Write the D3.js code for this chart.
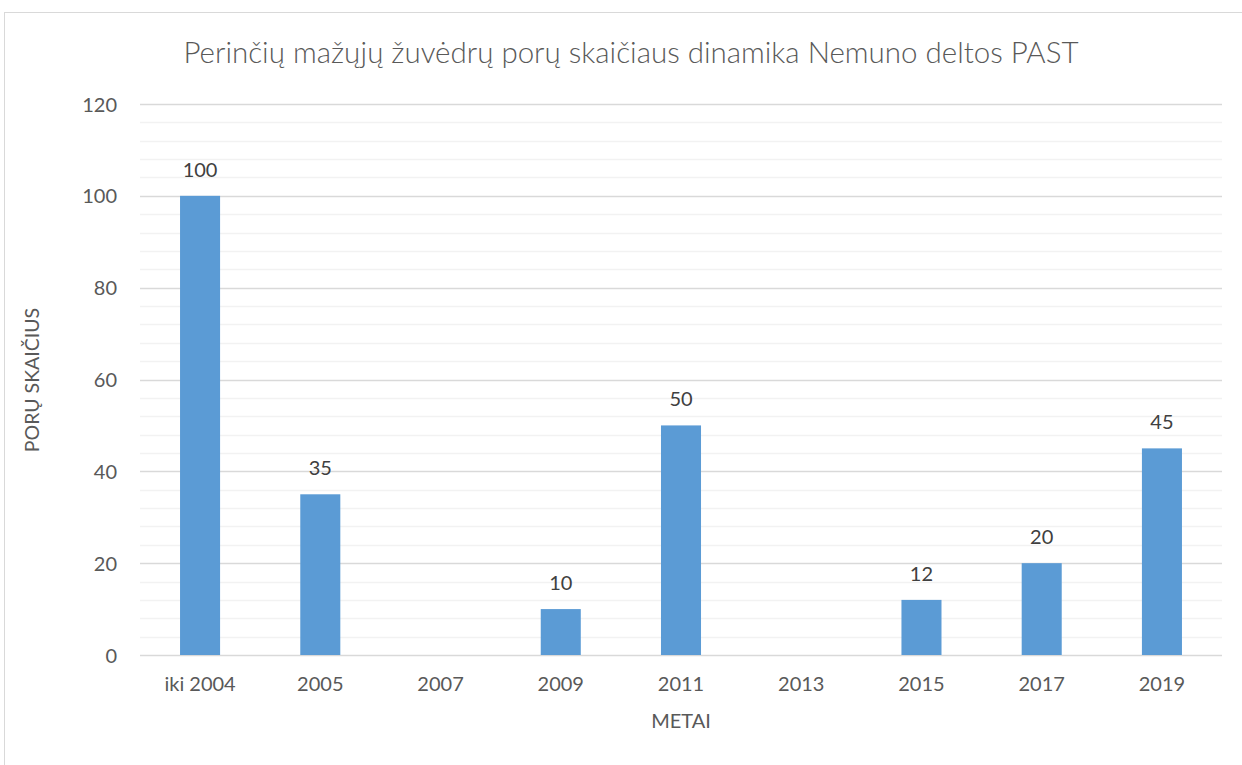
<!DOCTYPE html>
<html>
<head>
<meta charset="utf-8">
<script src="https://cdn.jsdelivr.net/npm/d3@7"></script>
<style>
  body { margin: 0; background: #fff; }
  text { font-family: Lato, "Open Sans", sans-serif; }
</style>
</head>
<body>
<script>
// chart data
const years = ["iki 2004", "2005", "2007", "2009", "2011", "2013", "2015", "2017", "2019"];
const pairs = [100, 35, null, 10, 50, null, 12, 20, 45];
const yTicks = [0, 20, 40, 60, 80, 100, 120];

const chartTitle = "Perinčių mažųjų žuvėdrų porų skaičiaus dinamika Nemuno deltos PAST";
const xTitle = "METAI";
const yTitle = "PORŲ SKAIČIUS";

const W = 1242, H = 765;

const svg = d3.select("body").append("svg")
  .attr("width", W)
  .attr("height", H);

// outer chart border
svg.append("rect")
  .attr("x", 4.5).attr("y", 12.5)
  .attr("width", 1260).attr("height", 780)
  .attr("fill", "none")
  .attr("stroke", "#d9d9d9");

const x = d3.scaleBand()
  .domain(years)
  .range([140, 1222])
  .paddingInner(0.667)
  .paddingOuter(0.333);

const y = d3.scaleLinear()
  .domain([0, 120])
  .range([655, 104]);

// minor gridlines
const minor = d3.range(0, 121, 4).filter(v => v % 20 !== 0);
svg.append("g").selectAll("line")
  .data(minor)
  .join("line")
  .attr("x1", 140).attr("x2", 1222)
  .attr("y1", d => Math.round(y(d)) + 0.5)
  .attr("y2", d => Math.round(y(d)) + 0.5)
  .attr("stroke", "#f2f2f2")
  .attr("stroke-width", 1.5);

// major gridlines
svg.append("g").selectAll("line")
  .data(yTicks)
  .join("line")
  .attr("x1", 140).attr("x2", 1222)
  .attr("y1", d => Math.round(y(d)) + 0.5)
  .attr("y2", d => Math.round(y(d)) + 0.5)
  .attr("stroke", "#d9d9d9")
  .attr("stroke-width", 1.5);

// y axis labels
const yAxis = svg.append("g")
  .attr("transform", "translate(140,0)")
  .call(d3.axisLeft(y).tickValues(yTicks).tickSize(0).tickPadding(23));
yAxis.select(".domain").remove();
yAxis.selectAll("text")
  .attr("fill", "#595959")
  .style("font-size", "20px")
  .attr("dy", "0.35em");

// x axis labels
const xAxis = svg.append("g")
  .attr("transform", "translate(0,655)")
  .call(d3.axisBottom(x).tickSize(0).tickPadding(22));
xAxis.select(".domain").remove();
xAxis.selectAll("text")
  .attr("fill", "#595959")
  .style("font-size", "20px");

// bars
const rows = years.map((k, i) => ({ k, v: pairs[i] })).filter(d => d.v != null);

svg.append("g").selectAll("rect")
  .data(rows)
  .join("rect")
  .attr("x", d => x(d.k))
  .attr("width", x.bandwidth())
  .attr("y", d => y(d.v))
  .attr("height", d => y(0) - y(d.v))
  .attr("fill", "#5b9bd5");

// value labels
svg.append("g").selectAll("text")
  .data(rows)
  .join("text")
  .attr("x", d => x(d.k) + x.bandwidth() / 2)
  .attr("y", d => y(d.v) - 19)
  .attr("text-anchor", "middle")
  .attr("fill", "#404040")
  .style("font-size", "20px")
  .text(d => d.v);

// titles
svg.append("text")
  .attr("x", 631).attr("y", 63)
  .attr("text-anchor", "middle")
  .attr("fill", "#595959")
  .style("font-size", "29.5px")
  .style("font-weight", 300)
  .text(chartTitle);

svg.append("text")
  .attr("x", 681).attr("y", 728)
  .attr("text-anchor", "middle")
  .attr("fill", "#595959")
  .style("font-size", "20px")
  .text(xTitle);

svg.append("text")
  .attr("transform", "translate(39,380) rotate(-90)")
  .attr("text-anchor", "middle")
  .attr("fill", "#595959")
  .style("font-size", "19.5px")
  .text(yTitle);
</script>
</body>
</html>
